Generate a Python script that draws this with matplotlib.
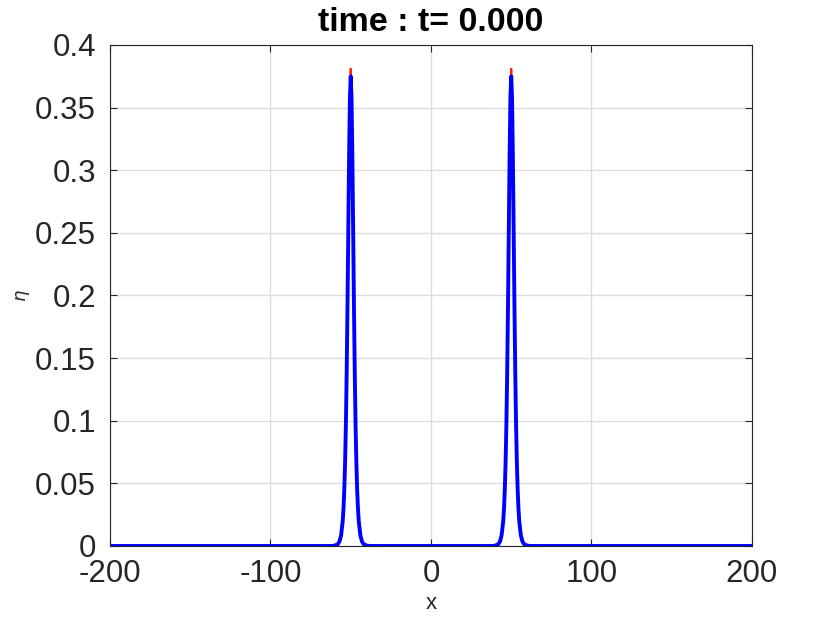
import numpy as np
import matplotlib
matplotlib.use("Agg")
from matplotlib import pyplot as plt

# profile of one hump (offset from hump centre, eta)
d = [0, 0.5, 1, 1.5, 2, 2.5, 3, 3.5, 4, 4.5, 5, 6, 7, 8, 10, 12]
eta_blue = [0.375, 0.358, 0.313, 0.254, 0.193, 0.140, 0.098, 0.067, 0.0454, 0.0301, 0.0198, 0.0085, 0.0036, 0.0015, 0.0003, 0.0]
eta_red = [0.381, 0.358, 0.313, 0.254, 0.193, 0.140, 0.098, 0.067, 0.0454, 0.0301, 0.0198, 0.0085, 0.0036, 0.0015, 0.0003, 0.0]
centres = [-50, 50]
xlim = [-200, 200]

def build(prof):
    xs = [xlim[0]]
    ys = [0.0]
    for c in centres:
        for o, v in zip(d[::-1], prof[::-1]):
            xs.append(c - o); ys.append(v)
        for o, v in zip(d[1:], prof[1:]):
            xs.append(c + o); ys.append(v)
    xs.append(xlim[1]); ys.append(0.0)
    return np.array(xs), np.array(ys)

plt.rcParams['font.family'] = ['Liberation Sans', 'DejaVu Sans']
plt.rcParams['axes.unicode_minus'] = False
fig = plt.figure(figsize=(8.3, 6.23), dpi=100)
ax = fig.add_axes([0.1325, 0.1236, 0.906 - 0.1325, 0.9278 - 0.1236])

xr, yr = build(eta_red)
xb, yb = build(eta_blue)
ax.plot(xr, yr, color='#ff2000', lw=1.5)
ax.plot(xb, yb, color='#0000ff', lw=2.8)

ax.set_xlim(xlim)
ax.set_ylim(0, 0.4)
ax.set_xticks([-200, -100, 0, 100, 200])
ax.set_yticks(np.arange(0, 0.401, 0.05))
ax.set_yticklabels(['0', '0.05', '0.1', '0.15', '0.2', '0.25', '0.3', '0.35', '0.4'])
ax.grid(True, color='#dcdcdc', lw=1.0)
ax.set_axisbelow(True)
ax.tick_params(direction='in', labelsize=22.5, colors='#262626', length=5, top=True, right=True)
ax.tick_params(axis='y', pad=10)
ax.tick_params(axis='x', pad=9.5)
for s in ax.spines.values():
    s.set_color('#262626')
ax.set_xlabel('x', fontsize=16, color='#262626', labelpad=3)
ax.set_ylabel(r'$\eta$', fontsize=13, color='#262626', labelpad=2)
ax.set_title('time : t= 0.000', fontsize=24.5, fontweight='bold', pad=10)

fig.savefig('out.png', dpi=100)
